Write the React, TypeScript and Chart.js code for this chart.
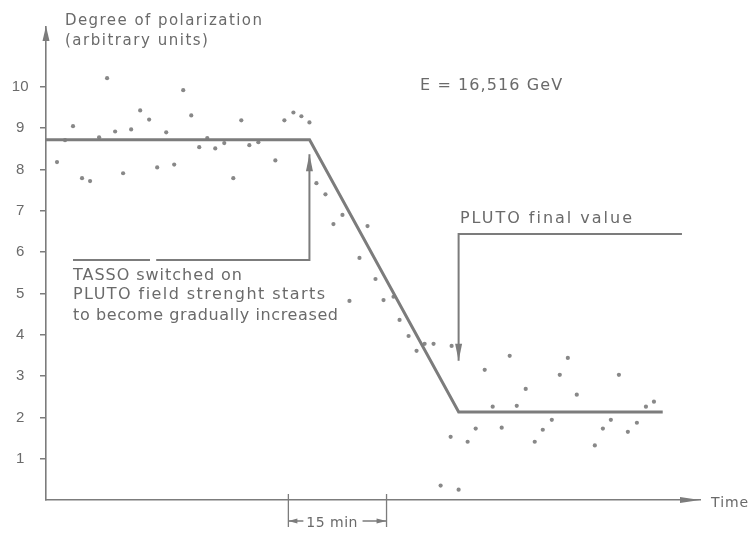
import React, { useEffect, useRef } from 'react';
import { Chart, registerables } from 'chart.js';

Chart.register(...registerables);

// measured polarization values (time in minutes, arbitrary units)
const measuredX = [1.68, 2.91, 4.13, 5.51, 6.74, 8.12, 9.34, 10.57, 11.79, 13.02, 14.4, 15.77, 17.0, 18.38, 19.6, 20.98, 22.21, 23.43, 24.66, 25.88, 27.26, 28.64, 29.86, 31.09, 32.47, 35.07, 36.45, 37.83, 39.05, 40.28, 41.35, 42.73, 43.95, 45.33, 46.4, 47.93, 49.16, 50.38, 51.61, 53.14, 54.06, 55.44, 56.66, 57.89, 59.26, 60.34, 61.87, 62.02, 63.09, 64.47, 65.7, 67.08, 68.3, 69.68, 70.9, 71.98, 73.35, 74.73, 75.96, 77.34, 78.56, 79.79, 81.16, 83.92, 85.15, 86.37, 87.6, 88.97, 90.35, 91.73, 92.96];
const measuredY = [8.18, 8.71, 9.05, 7.79, 7.72, 8.78, 10.21, 8.92, 7.91, 8.97, 9.43, 9.21, 8.05, 8.9, 8.12, 9.92, 9.31, 8.54, 8.76, 8.51, 8.64, 7.79, 9.19, 8.59, 8.66, 8.22, 9.19, 9.38, 9.29, 9.14, 7.67, 7.4, 6.68, 6.9, 4.82, 5.86, 6.63, 5.35, 4.84, 4.92, 4.36, 3.97, 3.61, 3.78, 3.78, 0.35, 1.53, 3.73, 0.25, 1.41, 1.73, 3.15, 2.26, 1.75, 3.49, 2.28, 2.69, 1.41, 1.7, 1.94, 3.03, 3.44, 2.55, 1.32, 1.73, 1.94, 3.03, 1.65, 1.87, 2.26, 2.38];

// fitted curve
const fitX = [0, 40.3, 63.1, 94.3];
const fitY = [8.72, 8.72, 2.13, 2.13];

// "TASSO switched on" pointer
const tassoX = [4.13, 15.9, 16.4, 16.85, 40.28, 40.28];
const tassoY = [5.81, 5.81, null, 5.81, 5.81, 8.37];

// "PLUTO final value" pointer
const plutoX = [97.24, 63.09, 63.09];
const plutoY = [6.44, 6.44, 3.37];

// 15 min scale marker
const markerStart = 37.06;
const markerEnd = 52.07;

const yTickValues = [1, 2, 3, 4, 5, 6, 7, 8, 9, 10];
const xMax = 100;
const yMax = 11.45;

const annotations: { text: string; x: number; y: number; width: number; size: number }[] = [
  { text: 'Degree of polarization', x: 2.9, y: 11.5, width: 197, size: 15 },
  { text: '(arbitrary units)', x: 2.9, y: 11.01, width: 143, size: 15 },
  { text: 'E = 16,516 GeV', x: 57.2, y: 9.92, width: 142, size: 16 },
  { text: 'PLUTO final value', x: 63.3, y: 6.71, width: 172, size: 16 },
  { text: 'TASSO switched on', x: 4.13, y: 5.33, width: 169, size: 16 },
  { text: 'PLUTO field strenght starts', x: 4.13, y: 4.87, width: 252, size: 16 },
  { text: 'to become gradually increased', x: 4.13, y: 4.36, width: 265, size: 16 },
  { text: 'Time', x: 101.7, y: -0.17, width: 37, size: 14 },
];

const LINE = '#7c7c7c';
const TEXT = '#6a6a6a';
const DOT = '#888888';

const zip = (xs: number[], ys: (number | null)[]) => xs.map((x, i) => ({ x, y: ys[i] }));

function fitText(ctx: CanvasRenderingContext2D, text: string, x: number, y: number, width: number, size: number) {
  ctx.save();
  ctx.font = `${size}px "DejaVu Sans"`;
  (ctx as any).letterSpacing = '0px';
  ctx.textBaseline = 'alphabetic';
  ctx.textAlign = 'left';
  ctx.fillStyle = TEXT;
  const w = ctx.measureText(text).width;
  const n = text.length;
  const sp = n > 1 ? (width - w) / (n - 1) : 0;
  if (sp >= 0) {
    (ctx as any).letterSpacing = `${sp}px`;
    ctx.fillText(text, x, y);
  } else {
    ctx.translate(x, y);
    ctx.scale(width / w, 1);
    ctx.fillText(text, 0, 0);
  }
  ctx.restore();
}

function arrowHead(ctx: CanvasRenderingContext2D, tx: number, ty: number, dx: number, dy: number, len: number, half: number) {
  const bx = tx - dx * len;
  const by = ty - dy * len;
  const px = -dy;
  const py = dx;
  ctx.beginPath();
  ctx.moveTo(tx, ty);
  ctx.lineTo(bx + px * half, by + py * half);
  ctx.lineTo(bx - px * half, by - py * half);
  ctx.closePath();
  ctx.fill();
}

const overlayPlugin = {
  id: 'overlay',
  afterDatasetsDraw(chart: any) {
    const { ctx, chartArea, scales } = chart;
    const xs = scales.x;
    const ys = scales.y;
    ctx.save();
    ctx.fillStyle = LINE;
    ctx.strokeStyle = LINE;

    // axis arrows
    arrowHead(ctx, chartArea.left, chartArea.top - 1, 0, -1, 15, 3.5);
    arrowHead(ctx, chartArea.right, chartArea.bottom, 1, 0, 20, 3);

    // pointer arrow heads
    const tl = tassoX.length - 1;
    arrowHead(ctx, xs.getPixelForValue(tassoX[tl]), ys.getPixelForValue(tassoY[tl] as number), 0, -1, 17, 3.5);
    const pl = plutoX.length - 1;
    arrowHead(ctx, xs.getPixelForValue(plutoX[pl]), ys.getPixelForValue(plutoY[pl]), 0, 1, 17, 3.5);

    // 15 min marker
    const a = xs.getPixelForValue(markerStart);
    const b = xs.getPixelForValue(markerEnd);
    const base = chartArea.bottom;
    ctx.lineWidth = 1.3;
    ctx.beginPath();
    ctx.moveTo(a, base - 6);
    ctx.lineTo(a, base + 27);
    ctx.moveTo(b, base - 6);
    ctx.lineTo(b, base + 27);
    const my = base + 21;
    ctx.moveTo(a, my);
    ctx.lineTo(a + 15, my);
    ctx.moveTo(b - 24, my);
    ctx.lineTo(b, my);
    ctx.stroke();
    arrowHead(ctx, a, my, -1, 0, 9, 2.5);
    arrowHead(ctx, b, my, 1, 0, 10, 2.5);
    fitText(ctx, '15 min', a + 18, base + 27, 51, 14);

    // annotations
    for (const t of annotations) {
      fitText(ctx, t.text, xs.getPixelForValue(t.x), ys.getPixelForValue(t.y), t.width, t.size);
    }
    ctx.restore();
  },
};

export default function App() {
  const ref = useRef<HTMLCanvasElement | null>(null);

  useEffect(() => {
    if (!ref.current) return;
    const chart = new Chart(ref.current, {
      type: 'scatter',
      data: {
        datasets: [
          {
            label: 'Fit',
            data: zip(fitX, fitY),
            showLine: true,
            borderColor: LINE,
            borderWidth: 3,
            pointRadius: 0,
            tension: 0,
          },
          {
            label: 'TASSO pointer',
            data: zip(tassoX, tassoY),
            showLine: true,
            spanGaps: false,
            borderColor: LINE,
            borderWidth: 2,
            pointRadius: 0,
          },
          {
            label: 'PLUTO pointer',
            data: zip(plutoX, plutoY),
            showLine: true,
            borderColor: LINE,
            borderWidth: 2,
            pointRadius: 0,
          },
          {
            label: 'Measured',
            data: zip(measuredX, measuredY),
            showLine: false,
            pointRadius: 2.1,
            pointBackgroundColor: DOT,
            pointBorderWidth: 0,
          },
        ],
      } as any,
      options: {
        animation: false,
        responsive: true,
        maintainAspectRatio: false,
        layout: { padding: { left: 0, top: 27, right: 53, bottom: 0 } },
        plugins: { legend: { display: false }, tooltip: { enabled: false } },
        events: [],
        scales: {
          x: {
            type: 'linear',
            min: 0,
            max: xMax,
            afterFit: (s: any) => {
              s.height = 34;
            },
            border: { display: true, color: LINE, width: 1.6 },
            grid: { display: false },
            ticks: { display: false },
          },
          y: {
            type: 'linear',
            min: 0,
            max: yMax,
            afterFit: (s: any) => {
              s.width = 46;
            },
            border: { display: true, color: LINE, width: 1.6 },
            grid: {
              display: true,
              drawOnChartArea: false,
              drawTicks: true,
              tickLength: 6,
              lineWidth: 1.5,
              color: (c: any) => (c.tick && yTickValues.includes(c.tick.value) ? LINE : 'rgba(0,0,0,0)'),
            },
            ticks: {
              stepSize: 1,
              includeBounds: false,
              crossAlign: 'center',
              padding: 11.5,
              color: TEXT,
              font: { family: '"Liberation Sans"', size: 15 },
              callback: (v: any) => (yTickValues.includes(Number(v)) ? String(v) : ''),
            },
          },
        },
      } as any,
      plugins: [overlayPlugin],
    });
    return () => chart.destroy();
  }, []);

  return (
    <div style={{ position: 'fixed', left: 0, top: 0, width: 753, height: 534 }}>
      <canvas ref={ref} />
    </div>
  );
}
